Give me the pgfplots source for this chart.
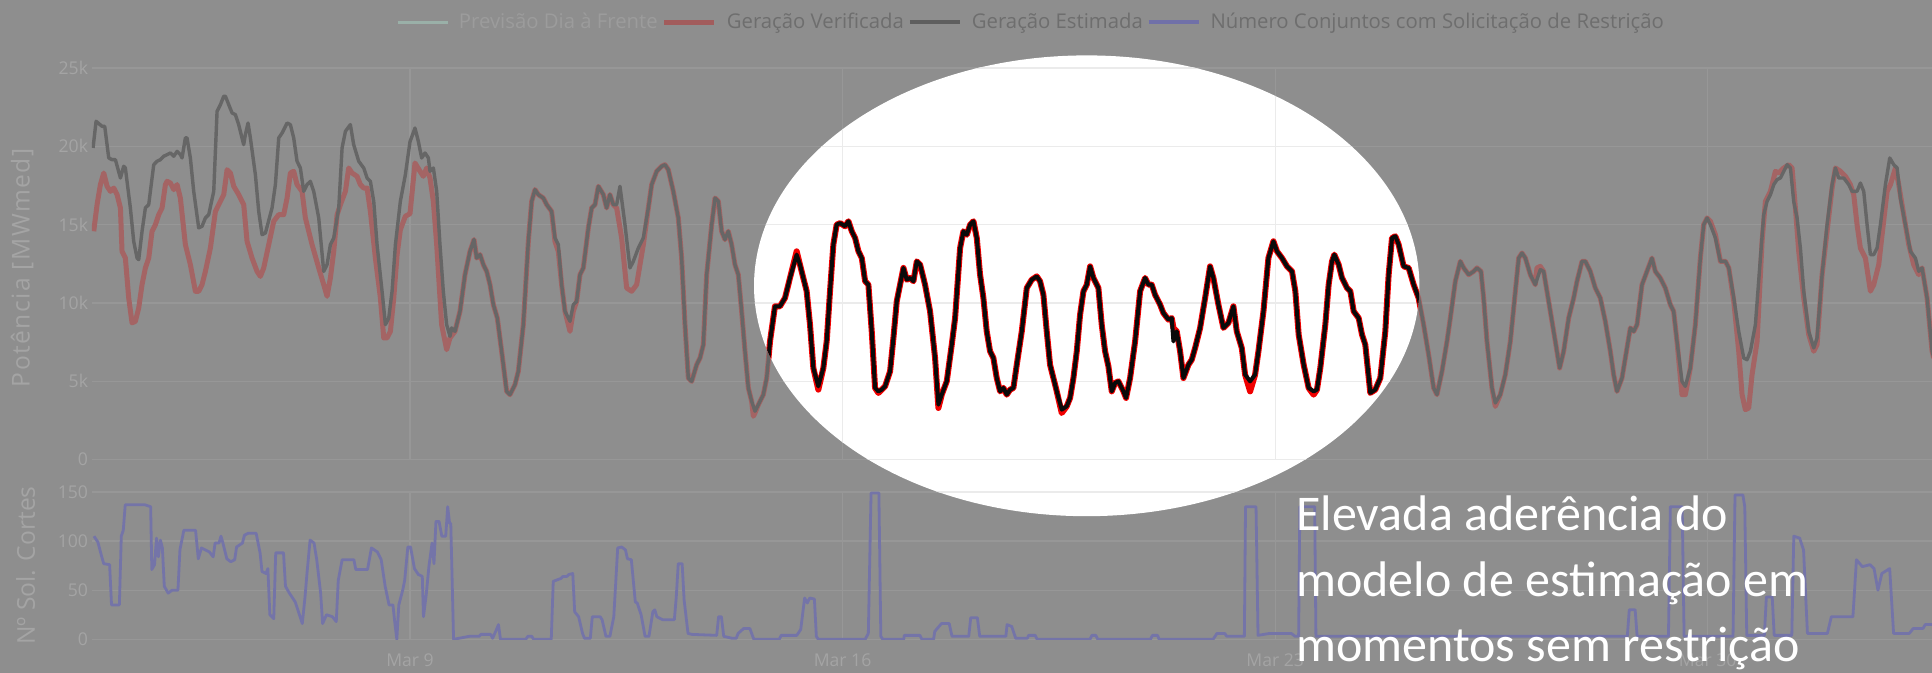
\documentclass[border=0pt]{standalone}
\usepackage{pgfplots}
\pgfplotsset{compat=1.18}
\usepackage{pgfplotstable}
\usepackage{fontspec}
\setmainfont{Open Sans}
\newfontfamily\calibri{Carlito}
\newfontfamily\spaced[LetterSpace=6]{Open Sans}

\pgfplotstableread{
d v
3.871 19900
3.920 21600
4.017 21280
4.060 21280
4.125 19260
4.179 19150
4.233 19150
4.314 17980
4.367 18730
4.394 18620
4.475 16070
4.529 13940
4.583 12870
4.610 12770
4.664 14580
4.718 16070
4.772 16280
4.853 18830
4.907 19050
4.961 19150
5.015 19370
5.069 19470
5.123 19580
5.177 19370
5.231 19680
5.284 19470
5.311 19260
5.365 20540
5.392 20540
5.446 19260
5.500 17130
5.581 14790
5.635 14900
5.689 15430
5.743 15640
5.824 17130
5.878 22240
5.932 22660
5.986 23200
6.013 23200
6.067 22660
6.121 22130
6.174 22030
6.228 21390
6.309 20110
6.336 20750
6.379 21490
6.417 20540
6.498 18190
6.552 15850
6.606 14360
6.660 14470
6.768 16070
6.822 17560
6.876 20540
6.930 20850
7.011 21490
7.064 21390
7.118 20540
7.172 19050
7.226 18620
7.280 17130
7.334 17560
7.388 17770
7.442 17130
7.523 15430
7.604 12020
7.658 12450
7.712 13730
7.766 14150
7.847 16070
7.901 19900
7.955 20960
8.035 21390
8.089 20110
8.170 19050
8.251 18620
8.305 17980
8.359 17770
8.413 16490
8.467 13730
8.548 10750
8.602 8620
8.656 9040
8.710 10750
8.764 13730
8.844 16490
8.925 18190
9.000 20300
9.081 21170
9.135 20320
9.189 19260
9.243 19580
9.297 19260
9.324 18410
9.378 18620
9.432 17130
9.485 13730
9.539 10750
9.593 8620
9.647 7870
9.674 8410
9.728 8190
9.809 9470
9.890 11810
9.971 13300
10.036 14050
10.079 12870
10.133 13090
10.187 12450
10.241 12020
10.295 11170
10.349 9900
10.413 9040
10.483 6920
10.564 4360
10.618 4150
10.699 4790
10.753 5640
10.834 8620
10.915 13940
10.969 16490
11.023 17240
11.077 16920
11.158 16700
11.212 16280
11.292 15850
11.346 14150
11.400 13730
11.454 11170
11.508 9470
11.589 8830
11.643 9900
11.697 10110
11.751 11810
11.805 12240
11.886 14790
11.940 16070
11.994 16280
12.048 17450
12.129 16920
12.182 16070
12.236 16920
12.290 16280
12.344 16280
12.398 17450
12.479 15000
12.560 12240
12.614 12660
12.695 13510
12.776 14150
12.857 16070
12.911 17560
12.992 18410
13.073 18730
13.126 18830
13.180 18510
13.261 17130
13.342 15430
13.396 12870
13.450 8620
13.504 5210
13.558 5000
13.639 6060
13.693 6490
13.747 7340
13.801 11810
13.882 15000
13.936 16700
13.990 16490
14.043 14580
14.097 14050
14.151 14580
14.205 13730
14.259 12450
14.313 11810
14.367 9470
14.421 6920
14.475 4580
14.529 3720
14.583 3090
14.637 3510
14.718 4150
14.772 5210
14.826 7550
14.906 9790
14.987 9790
15.068 10320
15.149 11600
15.257 13090
15.311 12450
15.365 11600
15.419 10750
15.473 8620
15.527 5850
15.608 4680
15.689 5850
15.743 7550
15.797 10750
15.851 13730
15.904 15000
15.960 15100
16.041 14900
16.095 15220
16.149 14580
16.203 14150
16.257 13300
16.311 12870
16.365 11390
16.418 11170
16.472 8190
16.526 4580
16.580 4360
16.634 4470
16.688 4680
16.769 5640
16.823 7770
16.877 10110
16.931 11170
16.985 12240
17.039 11490
17.093 11600
17.147 11390
17.201 12660
17.255 12450
17.335 11170
17.416 9470
17.497 6490
17.551 3510
17.605 4150
17.686 5000
17.767 7340
17.821 9040
17.902 13510
17.956 14580
18.010 14360
18.064 15000
18.118 15220
18.172 14150
18.225 11810
18.279 10320
18.333 8190
18.387 6920
18.441 6490
18.495 5210
18.549 4360
18.603 4580
18.657 4150
18.711 4470
18.765 4580
18.819 6060
18.900 8190
18.981 10960
19.062 11490
19.142 11700
19.196 11390
19.250 10530
19.304 8190
19.358 6060
19.412 5210
19.466 4360
19.547 3190
19.628 3410
19.682 3940
19.736 5210
19.790 6920
19.844 9260
19.898 10750
19.952 11170
20.006 12340
20.059 11600
20.140 10960
20.194 8620
20.248 6920
20.302 5960
20.356 4360
20.410 4890
20.464 5000
20.545 4360
20.588 3940
20.653 5210
20.734 7550
20.815 10750
20.896 11600
20.950 11170
21.003 11170
21.057 10530
21.138 9900
21.192 9360
21.273 8940
21.327 9040
21.354 7550
21.408 8190
21.462 6920
21.516 5210
21.597 6060
21.651 6380
21.705 7130
21.786 8410
21.867 10320
21.947 12340
22.001 11600
22.082 9900
22.163 8410
22.244 8730
22.325 9790
22.379 8190
22.460 7130
22.514 5430
22.595 5000
22.676 5430
22.730 6920
22.811 9470
22.891 12870
22.972 13940
23.030 13300
23.111 12870
23.192 12340
23.273 12020
23.327 10750
23.381 7980
23.462 6060
23.542 4580
23.623 4360
23.677 4470
23.731 5850
23.812 8620
23.866 11170
23.920 12660
23.958 13090
24.028 12450
24.082 11600
24.163 10960
24.217 10750
24.271 9470
24.352 9040
24.406 7980
24.459 7340
24.540 4260
24.621 4470
24.702 5210
24.783 8190
24.837 11810
24.891 14150
24.945 14260
24.999 13730
25.080 12340
25.161 12240
25.242 11170
25.322 10320
25.403 8620
25.484 6700
25.565 4580
25.619 4150
25.700 5640
25.781 7550
25.835 9040
25.916 11390
25.997 12660
26.051 12240
26.132 11810
26.213 12020
26.266 12240
26.331 12020
26.374 10320
26.428 7550
26.509 4580
26.563 3620
26.644 4150
26.725 5430
26.806 7550
26.887 10750
26.941 12870
26.995 13190
27.049 12870
27.130 11810
27.210 11170
27.291 12130
27.345 12020
27.399 10750
27.453 9470
27.534 7550
27.604 5850
27.669 6920
27.750 9040
27.831 10320
27.885 11390
27.966 12660
28.019 12660
28.100 12020
28.181 10960
28.262 10320
28.343 8830
28.424 6920
28.478 5430
28.532 4360
28.613 5210
28.667 6490
28.748 8410
28.802 8190
28.856 8620
28.937 11170
29.017 12020
29.098 12870
29.152 12020
29.233 11600
29.314 10960
29.395 9900
29.449 9470
29.503 7550
29.584 5000
29.638 4680
29.719 5850
29.800 8620
29.881 12870
29.935 15000
29.990 15430
30.044 15000
30.125 14150
30.206 12660
30.287 12660
30.341 12240
30.422 10320
30.502 8190
30.583 6490
30.637 6380
30.691 6920
30.772 8620
30.853 12870
30.907 15640
30.961 16490
31.015 16920
31.069 17560
31.123 17880
31.177 17980
31.231 18410
31.285 18830
31.339 18620
31.392 16490
31.446 15430
31.500 13510
31.554 10750
31.635 8190
31.716 7130
31.770 7770
31.851 11810
31.932 15000
32.013 17560
32.067 18620
32.121 17980
32.202 17980
32.282 17560
32.336 17130
32.417 17130
32.471 17660
32.525 17130
32.579 15000
32.633 13090
32.687 13090
32.741 13510
32.795 15000
32.876 17560
32.946 19260
33.011 18830
33.065 18620
33.118 16700
33.199 15000
33.280 13300
33.361 12870
33.415 12020
33.469 12240
33.550 10320
33.631 6920
33.658 6490
}\estdata

\pgfplotstableread{
d v
3.882 14580
3.936 16280
3.990 17560
4.044 18300
4.098 17450
4.152 17130
4.206 17340
4.260 16920
4.314 16070
4.340 13300
4.394 12870
4.448 10320
4.502 8730
4.556 8830
4.610 9680
4.664 11170
4.718 12240
4.772 12870
4.826 14580
4.880 15000
4.934 15640
4.988 16070
5.042 17560
5.069 17770
5.123 17660
5.177 17240
5.231 17560
5.284 16700
5.365 13730
5.446 12450
5.527 10750
5.581 10750
5.635 11170
5.689 12020
5.770 13510
5.851 15850
5.905 16280
5.986 16920
6.040 18510
6.094 18300
6.148 17450
6.228 16920
6.309 16280
6.363 13940
6.444 12870
6.525 12020
6.579 11700
6.633 12240
6.714 13730
6.795 15220
6.876 15640
6.957 15640
7.011 16700
7.064 18300
7.118 18410
7.172 17560
7.253 17130
7.307 15430
7.415 13730
7.523 12240
7.604 11170
7.658 10430
7.712 11600
7.766 13300
7.820 15640
7.874 16280
7.955 17130
8.008 18620
8.062 18300
8.143 18090
8.197 17560
8.251 17340
8.305 17340
8.359 15850
8.440 12870
8.521 10320
8.575 7770
8.629 7770
8.683 8190
8.737 10320
8.791 13090
8.844 14680
8.925 15540
9.000 15700
9.081 18940
9.162 18410
9.216 18090
9.270 18620
9.324 17980
9.378 16490
9.432 13730
9.512 8620
9.593 7020
9.647 7770
9.728 8190
9.809 9470
9.890 11810
9.971 13300
10.036 14050
10.079 12870
10.133 13090
10.187 12450
10.241 12020
10.295 11170
10.349 9900
10.413 9040
10.483 6920
10.564 4360
10.618 4150
10.699 4790
10.753 5640
10.834 8620
10.915 13940
10.969 16490
11.023 17240
11.077 16920
11.158 16700
11.212 16280
11.292 15850
11.346 13940
11.400 13300
11.454 11170
11.508 9470
11.589 8190
11.643 9470
11.697 10110
11.751 11810
11.805 12240
11.886 14790
11.940 16070
11.994 16280
12.048 17450
12.129 16920
12.182 16070
12.236 16920
12.290 16280
12.344 16070
12.425 14150
12.506 10960
12.587 10750
12.668 11170
12.776 13730
12.857 16070
12.911 17560
12.992 18410
13.073 18730
13.126 18830
13.180 18510
13.261 17130
13.342 15430
13.396 12870
13.450 8620
13.504 5210
13.558 5000
13.639 6060
13.693 6490
13.747 7340
13.801 11810
13.882 15000
13.936 16700
13.990 16490
14.043 14580
14.097 14050
14.151 14580
14.205 13730
14.259 12450
14.313 11810
14.367 9470
14.421 6920
14.475 4580
14.529 3720
14.556 2770
14.583 2980
14.637 3510
14.718 4150
14.772 5210
14.826 7550
14.906 9790
14.987 9790
15.068 10320
15.149 11600
15.257 13300
15.311 12450
15.365 11600
15.419 10750
15.473 8620
15.527 5850
15.608 4470
15.689 5850
15.743 7550
15.797 10750
15.851 13730
15.904 15000
15.960 15100
16.041 14900
16.095 15220
16.149 14580
16.203 14150
16.257 13300
16.311 12870
16.365 11390
16.418 11170
16.472 8190
16.526 4580
16.580 4260
16.634 4470
16.688 4680
16.769 5640
16.823 7770
16.877 10110
16.931 11170
16.985 12240
17.039 11490
17.093 11600
17.147 11390
17.201 12660
17.255 12450
17.335 11170
17.416 9470
17.497 6490
17.551 3300
17.605 4150
17.686 5000
17.767 7340
17.821 9040
17.902 13510
17.956 14580
18.010 14360
18.064 15000
18.118 15220
18.172 14150
18.225 11810
18.279 10320
18.333 8190
18.387 6920
18.441 6490
18.495 5210
18.549 4360
18.603 4580
18.657 4150
18.711 4470
18.765 4580
18.819 6060
18.900 8190
18.981 10960
19.062 11490
19.142 11700
19.196 11390
19.250 10530
19.304 8190
19.358 6060
19.412 5210
19.466 4360
19.547 2980
19.628 3410
19.682 3940
19.736 5210
19.790 6920
19.844 9260
19.898 10750
19.952 11170
20.006 12340
20.059 11600
20.140 10960
20.194 8620
20.248 6920
20.302 5960
20.356 4360
20.410 4890
20.464 5000
20.545 4360
20.588 3940
20.653 5210
20.734 7550
20.815 10750
20.896 11600
20.950 11170
21.003 11170
21.057 10530
21.138 9900
21.192 9360
21.273 8940
21.327 9040
21.354 8410
21.408 8190
21.462 6920
21.516 5210
21.597 6060
21.651 6380
21.705 7130
21.786 8410
21.867 10320
21.947 12340
22.001 11600
22.082 9900
22.163 8410
22.244 8730
22.325 9790
22.379 8190
22.460 7130
22.514 5430
22.595 4360
22.676 5430
22.730 6920
22.811 9470
22.891 12870
22.972 13940
23.030 13300
23.111 12870
23.192 12340
23.273 12020
23.327 10750
23.381 7980
23.462 6060
23.542 4580
23.623 4150
23.677 4470
23.731 5850
23.812 8620
23.866 11170
23.920 12660
23.958 13090
24.028 12450
24.082 11600
24.163 10960
24.217 10750
24.271 9470
24.352 9040
24.406 7980
24.459 7340
24.540 4260
24.621 4470
24.702 5210
24.783 8190
24.837 11810
24.891 14150
24.945 14260
24.999 13730
25.080 12340
25.161 12240
25.242 11170
25.322 10320
25.403 8620
25.484 6700
25.565 4580
25.619 4150
25.700 5640
25.781 7550
25.835 9040
25.916 11390
25.997 12660
26.051 12240
26.132 11810
26.213 12020
26.266 12240
26.331 12020
26.374 10320
26.428 7550
26.509 4580
26.563 3400
26.644 4150
26.725 5430
26.806 7550
26.887 10750
26.941 12870
26.995 13190
27.049 12870
27.130 11810
27.210 11170
27.237 12240
27.291 12340
27.345 12020
27.399 10750
27.453 9470
27.534 7550
27.604 5850
27.669 6920
27.750 9040
27.831 10320
27.885 11390
27.966 12660
28.019 12660
28.100 12020
28.181 10960
28.262 10320
28.343 8830
28.424 6920
28.478 5430
28.532 4360
28.613 5210
28.667 6490
28.748 8410
28.802 8190
28.856 8620
28.937 11170
29.017 12020
29.098 12870
29.152 12020
29.233 11600
29.314 10960
29.395 9900
29.449 9470
29.503 7550
29.584 4150
29.638 4150
29.719 5850
29.800 8620
29.881 12870
29.935 15000
29.990 15430
30.044 15220
30.125 14360
30.206 12660
30.287 12660
30.341 12240
30.422 10110
30.502 6920
30.556 4150
30.610 3190
30.664 3300
30.718 5430
30.799 7550
30.880 13940
30.934 16490
31.015 17130
31.096 18410
31.149 18300
31.231 18620
31.311 18830
31.365 18620
31.419 16070
31.473 13300
31.554 10320
31.635 7980
31.716 6920
31.770 7340
31.851 11810
31.932 14580
32.013 17340
32.067 18620
32.148 18410
32.229 18090
32.309 17560
32.363 16920
32.417 15000
32.471 13510
32.552 12870
32.633 10750
32.687 11170
32.768 12450
32.822 14360
32.903 17130
32.957 17560
33.038 18620
33.091 17560
33.172 15640
33.253 13730
33.334 12450
33.415 11810
33.469 12240
33.550 10320
33.631 6920
33.658 6490
}\verdata

\pgfplotstableread{
d v
3.886 105
3.949 99
4.012 84
4.044 77
4.139 76
4.170 35
4.297 35
4.328 105
4.360 111
4.392 137
4.708 137
4.803 135
4.822 71
4.866 76
4.898 103
4.929 84
4.961 101
4.993 93
5.024 54
5.087 47
5.151 50
5.245 50
5.277 91
5.340 111
5.530 111
5.574 82
5.625 93
5.752 89
5.815 84
5.846 98
5.910 98
5.941 105
5.973 98
6.036 82
6.099 79
6.163 81
6.194 94
6.289 98
6.321 106
6.384 108
6.510 108
6.574 88
6.605 69
6.669 67
6.700 72
6.732 25
6.795 21
6.827 88
6.953 88
6.985 54
7.048 47
7.143 38
7.206 26
7.257 16
7.301 43
7.333 67
7.383 101
7.447 98
7.491 81
7.554 47
7.586 16
7.649 25
7.744 23
7.807 18
7.839 60
7.902 81
8.092 81
8.123 71
8.313 71
8.376 93
8.471 89
8.534 81
8.598 54
8.661 35
8.724 35
8.756 16
8.787 0
8.819 35
8.882 50
8.914 60
8.965 94
9.009 94
9.072 72
9.135 66
9.199 64
9.218 23
9.262 45
9.306 74
9.357 98
9.388 77
9.420 120
9.470 120
9.515 105
9.578 105
9.610 135
9.641 118
9.660 118
9.705 0
9.958 3
10.116 3
10.147 5
10.305 5
10.337 1
10.400 10
10.432 15
10.464 0
10.875 0
10.906 3
10.970 3
11.001 0
11.286 0
11.318 59
11.444 62
11.476 64
11.539 64
11.571 66
11.634 67
11.665 28
11.729 23
11.792 6
11.824 1
11.918 1
11.950 23
12.077 23
12.108 20
12.171 3
12.235 3
12.298 23
12.361 93
12.424 94
12.487 91
12.519 82
12.582 81
12.646 38
12.677 37
12.740 25
12.804 3
12.867 3
12.930 28
12.962 30
12.994 23
13.088 20
13.278 20
13.309 43
13.341 77
13.404 77
13.436 40
13.499 6
13.563 5
13.963 4
13.994 23
14.039 23
14.077 3
14.216 1
14.279 1
14.311 6
14.400 11
14.500 11
14.564 0
14.975 0
15.006 4
15.259 4
15.323 10
15.386 42
15.430 37
15.468 42
15.544 41
15.576 3
15.607 0
16.366 0
16.417 6
16.461 149
16.588 149
16.619 3
16.651 0
16.990 0
16.999 4
17.252 4
17.283 0
17.473 0
17.492 8
17.600 16
17.726 16
17.771 3
18.042 3
18.074 22
18.181 22
18.220 3
18.643 3
18.662 15
18.738 13
18.802 1
18.991 1
19.010 4
19.118 4
19.149 0
20.003 0
20.035 4
20.098 4
20.129 0
20.983 0
21.015 4
21.097 4
21.123 0
21.996 0
22.059 6
22.185 6
22.217 3
22.502 3
22.521 135
22.691 135
22.723 4
22.913 6
23.260 6
23.324 3
23.380 3
23.400 135
23.640 135
23.660 3
28.699 3
28.731 30
28.826 30
28.858 3
29.365 3
29.396 135
29.587 135
29.618 3
30.410 3
30.442 147
30.569 147
30.600 135
30.632 4
30.917 4
30.949 43
31.044 43
31.076 4
31.361 4
31.393 105
31.488 103
31.551 91
31.614 6
31.937 6
32.001 23
32.350 23
32.407 81
32.502 74
32.628 76
32.692 72
32.755 50
32.818 67
32.945 72
33.008 6
33.262 6
33.326 11
33.484 11
33.520 15
33.640 15
}\numdata

% ---------- colour sets ----------
\newcommand{\mutedcolors}{%
  \definecolor{cGrid}{HTML}{979797}%
  \definecolor{cZero}{HTML}{6A6A6A}%
  \definecolor{cRed}{HTML}{A46464}%
  \definecolor{cEst}{HTML}{666666}%
  \definecolor{cNum}{HTML}{7474A8}%
  \def\wRed{2.5pt}\def\wEst{1.7pt}\def\wNum{1.4pt}}
\newcommand{\vividcolors}{%
  \definecolor{cGrid}{HTML}{EBEBEB}%
  \definecolor{cZero}{HTML}{444444}%
  \definecolor{cRed}{HTML}{F00000}%
  \definecolor{cEst}{HTML}{0A0A0A}%
  \definecolor{cNum}{HTML}{4040C8}%
  \def\wRed{3pt}\def\wEst{2pt}\def\wNum{1.4pt}}
\definecolor{cBg}{HTML}{8E8E8E}
\definecolor{cTick}{HTML}{A4A4A4}
\definecolor{cLegTxt}{HTML}{6E6E6E}
\definecolor{cPrevTxt}{HTML}{9C9C9C}
\definecolor{cPrev}{HTML}{9AB0A8}
\definecolor{cLegRed}{HTML}{A25C5C}
\definecolor{cLegEst}{HTML}{5E5E5E}
\definecolor{cLegNum}{HTML}{7070A8}

\pgfplotsset{
  base/.style={
    scale only axis, width=920pt,
    xmin=3.854, xmax=33.63,
    axis line style={draw=none}, tick style={draw=none},
    scaled y ticks=false, scaled x ticks=false,
    xtick={9,16,23,30},
    grid=major, major grid style={cGrid, line width=0.6pt},
    tick label style={font=\fontsize{8.8}{10}\selectfont, text=cTick},
    yticklabel style={inner sep=0pt, xshift=-1.8pt},
    xticklabel style={inner sep=0pt, yshift=-7pt},
    label style={font=\fontsize{12.3}{14}\selectfont, text=cTick},
    extra y ticks={0}, extra y tick labels={},
    extra y tick style={grid style={cZero, line width=0.9pt}},
  },
}

\newcommand{\drawcharts}[1]{%
\begin{axis}[base,
  at={(46pt,106.67pt)}, anchor=south west, height=195.8pt,
  ymin=0, ymax=25000,
  xticklabels={},
  ytick={0,5000,10000,15000,20000,25000},
  yticklabels={0,5k,10k,15k,20k,25k},
  ylabel={\spaced Potência [MWmed]},
  ylabel style={at={(axis description cs:-0.038,0.49)}, anchor=center},
  legend columns=4,
  legend style={at={(0.1652,1.117)}, anchor=west, draw=none, fill=none,
    font=\fontsize{10.15}{12}\selectfont, text=cLegTxt, inner sep=0pt,
    /tikz/every odd column/.append style={column sep=3pt}},
  legend image code/.code={\draw[##1] (0pt,0pt) -- (25pt,0pt);},
]
\ifnum#1=1 \addlegendimage{cPrev, line width=1.3pt}\addlegendentry{\textcolor{cPrevTxt}{Previsão Dia à Frente}}\fi
\addplot[cRed, line width=\wRed, line join=round, forget plot] table[x=d, y=v] {\verdata};
\ifnum#1=1 \addlegendimage{cLegRed, line width=2.6pt}\addlegendentry{Geração Verificada}\fi
\addplot[cEst, line width=\wEst, line join=round, forget plot] table[x=d, y=v] {\estdata};
\ifnum#1=1 \addlegendimage{cLegEst, line width=2pt}\addlegendentry{Geração Estimada}%
\addlegendimage{cLegNum, line width=1.8pt}\addlegendentry{Número Conjuntos com Solicitação de Restrição}\fi
\end{axis}
\begin{axis}[base,
  at={(46pt,16.85pt)}, anchor=south west, height=73.65pt,
  ymin=0, ymax=150,
  xticklabels={Mar 9,Mar 16,Mar 23,Mar 30},
  ytick={0,50,100,150},
  yticklabels={0,50,100,150},
  ylabel={Nº Sol. Cortes},
  ylabel style={at={(axis description cs:-0.036,0.5)}, anchor=center},
]
\addplot[cNum, line width=\wNum, line join=round] table[x=d, y=v] {\numdata};
\end{axis}}

\begin{document}
\begin{tikzpicture}
\useasboundingbox (0pt,0pt) rectangle (966pt,336.5pt);
\fill[cBg] (0pt,0pt) rectangle (966pt,336.5pt);
\mutedcolors
\drawcharts{1}
\begin{scope}
\clip (543.35pt,193.6pt) ellipse [x radius=166.35pt, y radius=115.2pt];
\fill[white] (0pt,0pt) rectangle (966pt,336.5pt);
\vividcolors
\drawcharts{0}
\end{scope}
\node[anchor=base west, inner sep=0pt, text=white, font=\calibri\fontsize{25}{30}\selectfont] at (648pt,71pt) {Elevada aderência do};
\node[anchor=base west, inner sep=0pt, text=white, font=\calibri\fontsize{25}{30}\selectfont] at (648pt,38.4pt) {modelo de estimação em};
\node[anchor=base west, inner sep=0pt, text=white, font=\calibri\fontsize{25}{30}\selectfont] at (648pt,5.8pt) {momentos sem restrição};
\end{tikzpicture}
\end{document}
